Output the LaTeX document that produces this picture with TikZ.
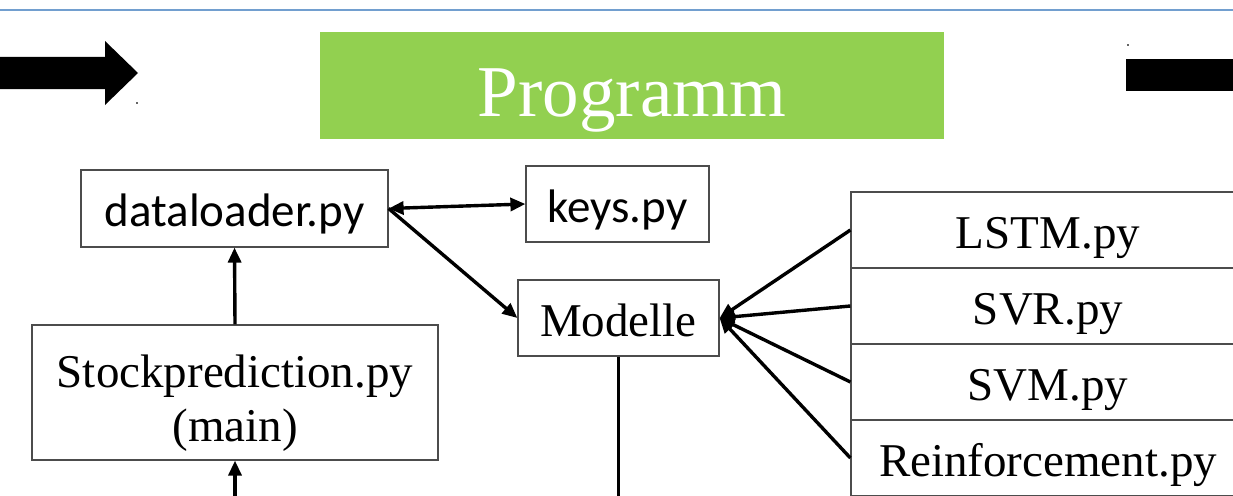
\documentclass[tikz,border=0pt]{standalone}
\usepackage{fontspec}
\setmainfont{Liberation Serif}
\newfontfamily\calfont{Carlito}
\usetikzlibrary{arrows.meta}
\definecolor{titlegreen}{RGB}{146,208,80}
\definecolor{rulerblue}{RGB}{114,159,207}
\tikzset{
	filebox/.style={draw=black!70,line width=1.2pt,inner sep=0pt,text height=40pt,text depth=4pt,font=\fontsize{47}{52}\selectfont},
	link/.style={line width=3.4pt},
	>={Triangle[length=15pt,width=13pt]}
}

\begin{document}
\begin{tikzpicture}[x=1pt,y=-1pt]
	\useasboundingbox (0,0) rectangle (1233,495);
	\clip (0,0) rectangle (1233,495);
	
	%top rule and block arrows
	\draw[rulerblue,line width=1.5pt] (0,10)--(1233,10);
	\fill (-5,57)--(105,57)--(105,41)--(138,73)--(105,105)--(105,89)--(-5,89)--cycle;	%left arrow
	\fill (1126,59) rectangle (1240,91);		%right bar
	\fill[black!60] (136,102) rectangle (138,104);
	\fill[black!60] (1127,44) rectangle (1129,46);
	
	%title
	\node[fill=titlegreen,minimum width=624pt,minimum height=107pt,inner sep=0pt,text height=61pt,text depth=0pt,text=white,font=\fontsize{73}{80}\selectfont] (title) at (632,85.5) {Programm};
	
	%files
	\node[filebox,font=\calfont\fontsize{47}{52}\selectfont,minimum width=307pt,minimum height=77pt] (dataloader) at (234.5,208.5) {dataloader.py};
	\node[filebox,font=\calfont\fontsize{47}{52}\selectfont,minimum width=183pt,minimum height=76pt] (keys) at (617.5,204) {keys.py};
	\node[filebox,minimum width=201pt,minimum height=76pt] (modelle) at (618.5,318) {Modelle};
	\node[filebox,minimum width=406pt,minimum height=135pt,text height=100pt,text depth=3pt,align=center,font=\fontsize{47}{54}\selectfont] (stock) at (235,392.5) {Stockprediction.py\\(main)};
	
	%model stack (cut off at the right)
	\node[filebox,minimum width=394pt,minimum height=76pt] (lstm)  at (1048,230) {LSTM.py};
	\node[filebox,minimum width=394pt,minimum height=76pt] (svr)   at (1048,306) {SVR.py};
	\node[filebox,minimum width=394pt,minimum height=76pt] (svm)   at (1048,382) {SVM.py};
	\node[filebox,minimum width=394pt,minimum height=76pt] (reinf) at (1048,458) {Reinforcement.py};
	
	%ends below the picture
	\coordinate (stockin) at (235,505);
	\coordinate (modout) at (618.5,505);
	
	%connectors
	\draw[link,->] (stock.north) -- (dataloader.south);
	\draw[link,->] (stockin) -- (stock.south);
	\draw[link,<->] (dataloader.east) -- (keys.west);
	\draw[link,->] (dataloader.east) -- (modelle.west);
	\draw[link] (modelle.south) -- (modout);
	\draw[link,->] (lstm.west) -- (modelle.east);
	\draw[link,->] (svr.west) -- (modelle.east);
	\draw[link,->] (svm.west) -- (modelle.east);
	\draw[link,->] (reinf.west) -- (modelle.east);
\end{tikzpicture}
\end{document}
